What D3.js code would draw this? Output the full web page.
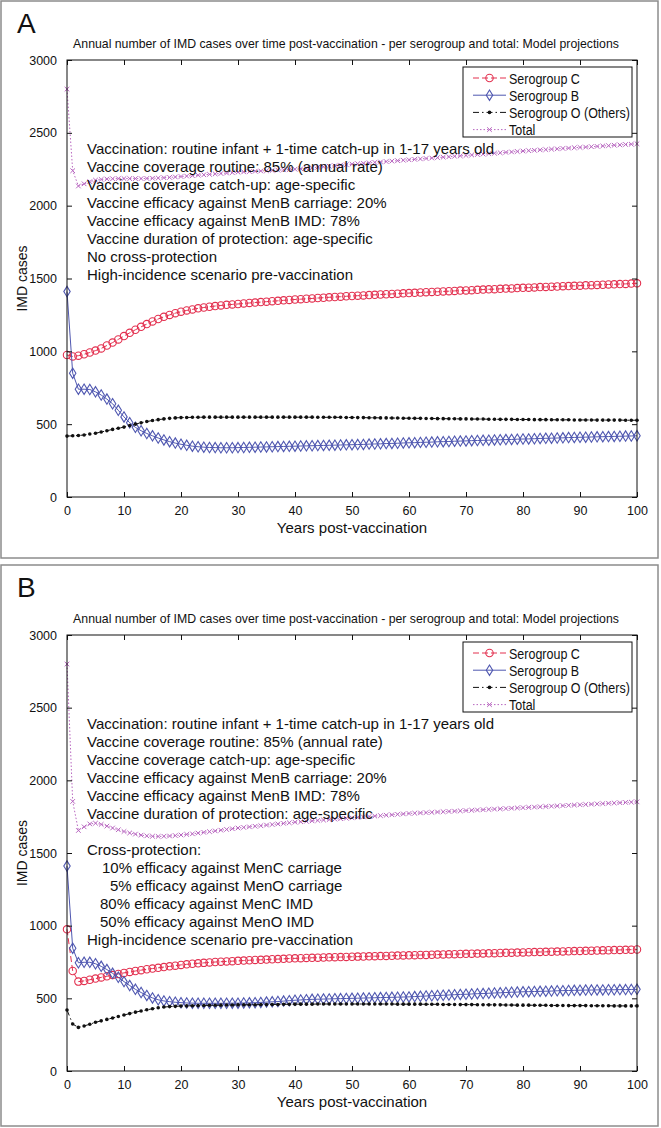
<!DOCTYPE html>
<html><head><meta charset="utf-8">
<script src="https://cdn.jsdelivr.net/npm/d3@7"></script>
<style>
body{margin:0;background:#fff}
svg{display:block}
text{font-family:"Liberation Sans",Arial,Helvetica,sans-serif;fill:#111}
</style>
</head><body>
<svg id="c" width="661" height="1128"></svg>
<script>
// ---------------- DATA ----------------
const years = d3.range(0, 101);
const xTicks = [0, 10, 20, 30, 40, 50, 60, 70, 80, 90, 100];
const yTicks = [0, 500, 1000, 1500, 2000, 2500, 3000];
const seriesNames = ["Serogroup C", "Serogroup B", "Serogroup O (Others)", "Total"];
const titleText = "Annual number of IMD cases over time post-vaccination - per serogroup and total: Model projections";
const xLabel = "Years post-vaccination";
const yLabel = "IMD cases";

// Panel A
const aC = [975,965,970,980,992,1005,1020,1040,1060,1082,1105,
 1127,1148,1168,1187,1205,1222,1237,1250,1262,1272,
 1281,1288,1295,1301,1306,1311,1315,1319,1322,1325,
 1329,1332,1335,1338,1341,1344,1347,1350,1353,1356,
 1358,1361,1363,1366,1368,1371,1373,1375,1378,1380,
 1382,1384,1386,1388,1390,1392,1394,1396,1398,1400,
 1402,1404,1406,1408,1409,1411,1413,1415,1417,1418,
 1420,1422,1424,1426,1427,1429,1431,1432,1434,1436,
 1437,1439,1441,1442,1444,1445,1447,1448,1450,1451,
 1453,1454,1456,1457,1459,1460,1462,1463,1465,1467];
const aB = [1410,850,740,740,738,722,700,672,640,595,550,
 510,478,455,436,420,405,392,380,370,362,
 355,349,345,342,340,339,338,338,338,339,
 340,341,342,343,344,345,346,347,348,349,
 350,351,352,353,354,355,356,357,358,359,
 360,361,363,364,365,367,368,369,371,372,
 373,375,376,377,379,380,381,383,384,385,
 387,388,389,390,392,393,394,395,397,398,
 399,400,402,403,404,405,406,408,409,410,
 411,412,413,414,415,416,417,418,419,420];
const aO = [418,420,422,426,432,438,446,455,464,472,480,
 490,500,510,518,525,531,536,540,543,545,
 546,547,547,548,548,548,548,548,548,548,
 548,548,548,548,548,548,548,548,548,548,
 548,548,548,547,547,547,547,547,546,546,
 545,545,544,544,543,543,542,542,541,541,
 540,540,539,539,538,538,537,537,536,536,
 535,535,535,534,534,533,533,533,532,532,
 532,531,531,531,530,530,530,530,529,529,
 529,529,528,528,528,528,528,527,527,527];
const aT = [2800,2240,2135,2150,2165,2175,2180,2183,2185,2186,2186,
 2186,2186,2186,2187,2188,2190,2192,2194,2197,2200,
 2203,2206,2209,2212,2215,2218,2221,2224,2227,2230,
 2232,2234,2236,2238,2240,2242,2244,2246,2248,2250,
 2253,2257,2260,2264,2267,2271,2274,2278,2281,2285,
 2288,2291,2294,2297,2300,2303,2306,2309,2312,2315,
 2318,2321,2324,2327,2330,2333,2336,2339,2342,2345,
 2348,2351,2354,2357,2360,2363,2366,2369,2372,2375,
 2378,2380,2383,2385,2388,2390,2393,2395,2398,2400,
 2402,2405,2407,2410,2412,2415,2417,2420,2422,2425];

// Panel B
const bC = [975,688,615,620,628,636,644,652,660,668,675,
 682,688,694,700,705,710,715,720,725,730,
 734,738,741,744,747,750,752,754,756,758,
 760,762,764,765,767,769,770,772,774,775,
 776,778,779,780,781,782,783,784,785,786,
 787,788,789,790,791,792,793,794,795,796,
 797,798,799,800,801,802,803,804,805,806,
 807,808,809,810,811,812,813,814,815,816,
 817,818,819,820,821,822,823,824,825,826,
 827,828,829,830,831,832,833,834,835,836];
const bB = [1410,845,745,748,748,738,720,698,672,645,615,
 588,562,540,520,503,490,482,477,473,470,
 468,467,466,466,466,466,466,466,467,467,
 468,469,470,472,474,476,478,481,484,487,
 489,491,493,494,495,496,497,498,499,500,
 501,502,503,504,505,506,507,508,509,510,
 512,514,516,518,520,521,523,525,527,528,
 530,532,533,535,537,538,540,542,543,545,
 546,547,548,549,550,552,553,554,555,556,
 557,557,558,558,559,559,560,560,561,562];
const bO = [420,323,300,310,322,335,345,355,365,375,385,
 395,405,413,421,428,435,440,443,445,447,
 448,449,450,451,452,452,453,454,454,455,
 455,456,456,457,457,458,458,459,459,460,
 460,460,460,461,461,461,461,461,461,461,
 461,461,461,461,461,461,461,460,460,460,
 460,460,459,459,459,458,458,458,457,457,
 457,456,456,455,455,455,454,454,453,453,
 453,452,452,452,451,451,451,450,450,450,
 450,449,449,449,449,448,448,448,448,448];
const bT = [2800,1855,1655,1680,1700,1705,1697,1685,1672,1660,1648,
 1638,1630,1623,1618,1615,1614,1615,1617,1620,1624,
 1628,1632,1637,1642,1647,1652,1657,1662,1667,1672,
 1676,1680,1684,1688,1692,1696,1700,1704,1708,1712,
 1715,1718,1721,1724,1727,1730,1733,1736,1739,1742,
 1745,1748,1751,1754,1757,1760,1763,1766,1769,1772,
 1774,1776,1778,1780,1782,1784,1786,1788,1790,1792,
 1794,1796,1798,1800,1802,1804,1806,1808,1810,1812,
 1814,1816,1818,1820,1822,1824,1826,1828,1830,1832,
 1834,1836,1838,1840,1842,1844,1846,1848,1850,1852];

const notesA = [
 "Vaccination: routine infant + 1-time catch-up in 1-17 years old",
 "Vaccine coverage routine: 85% (annual rate)",
 "Vaccine coverage catch-up: age-specific",
 "Vaccine efficacy against MenB carriage: 20%",
 "Vaccine efficacy against MenB IMD: 78%",
 "Vaccine duration of protection: age-specific",
 "No cross-protection",
 "High-incidence scenario pre-vaccination"];
const notesB = [
 "Vaccination: routine infant + 1-time catch-up in 1-17 years old",
 "Vaccine coverage routine: 85% (annual rate)",
 "Vaccine coverage catch-up: age-specific",
 "Vaccine efficacy against MenB carriage: 20%",
 "Vaccine efficacy against MenB IMD: 78%",
 "Vaccine duration of protection: age-specific",
 "",
 "Cross-protection:",
 "10% efficacy against MenC carriage",
 "5% efficacy against MenO carriage",
 "80% efficacy against MenC IMD",
 "50% efficacy against MenO IMD",
 "High-incidence scenario pre-vaccination"];
const notesBIndent = [0,0,0,0,0,0,0,0,15,23,13,13,0];

// ---------------- STYLE ----------------
const colors = ["#e3304f", "#4f57b0", "#111111", "#b866c0"];
const dashes = ["6,3", null, "6,3,1.5,3", "1.5,2"];
const svg = d3.select("#c");

function marker(sel, i, color) {
  if (i === 0) {
    sel.append("circle").attr("r", 3.7).attr("fill", "none").attr("stroke", color).attr("stroke-width", 1.1);
  } else if (i === 1) {
    sel.append("path").attr("d", "M0,-5.2L3.2,0L0,5.2L-3.2,0Z").attr("fill", "none").attr("stroke", color).attr("stroke-width", 1.1);
  } else if (i === 2) {
    sel.append("circle").attr("r", 1.8).attr("fill", color);
  } else {
    sel.append("path").attr("d", "M-2.3,-2.3L2.3,2.3M-2.3,2.3L2.3,-2.3").attr("stroke", color).attr("stroke-width", 1);
  }
}

// condensed text: drawn at `size`, squeezed horizontally to the width of the same text at `natural`
function condensed(parent, x, y, txt, size, natural, anchor, targetW) {
  const t = parent.append("text").attr("font-size", size).attr("text-anchor", anchor || "start").text(txt);
  const L = t.node().getComputedTextLength();
  const want = targetW || L * natural / size;
  const sx = want / L;
  t.attr("transform", `translate(${x},${y}) scale(${sx},1)`);
  return t;
}

function drawPanel(cfg) {
  const g = svg.append("g");
  // figure frame
  g.append("rect").attr("x", 1).attr("y", cfg.frameTop).attr("width", 657).attr("height", cfg.frameBottom - cfg.frameTop)
    .attr("fill", "none").attr("stroke", "#8c8c8c").attr("stroke-width", 1.5);
  g.append("text").attr("x", 17).attr("y", cfg.frameTop + 32).attr("font-size", 28).text(cfg.letter);

  const x = d3.scaleLinear().domain([0, 100]).range([67, 637]);
  const y = d3.scaleLinear().domain([0, 3000]).range([cfg.bottom, cfg.top]);

  // title
  condensed(g, 346, cfg.top - 12, titleText, 13.5, null, "middle", 546);

  // series
  cfg.data.forEach((vals, i) => {
    const pts = years.map((yr, k) => [yr, vals[k]]);
    const line = d3.line().x(d => x(d[0])).y(d => y(d[1]));
    g.append("path").attr("d", line(pts)).attr("fill", "none").attr("stroke", colors[i])
      .attr("stroke-width", 1).attr("stroke-dasharray", dashes[i]);
    const mg = g.append("g");
    pts.forEach(d => {
      const m = mg.append("g").attr("transform", `translate(${x(d[0])},${y(d[1])})`);
      marker(m, i, colors[i]);
    });
  });

  // axes box and inward ticks
  g.append("rect").attr("x", x(0)).attr("y", y(3000)).attr("width", x(100) - x(0)).attr("height", y(0) - y(3000))
    .attr("fill", "none").attr("stroke", "#111").attr("stroke-width", 1);
  const fmt = d3.format("d");
  const axB = g.append("g").attr("transform", `translate(0,${y(0)})`)
    .call(d3.axisBottom(x).tickValues(xTicks).tickFormat(fmt).tickSizeInner(-5).tickSizeOuter(0).tickPadding(9));
  const axT = g.append("g").attr("transform", `translate(0,${y(3000)})`)
    .call(d3.axisTop(x).tickValues(xTicks).tickSizeInner(-5).tickSizeOuter(0).tickFormat(""));
  const axL = g.append("g").attr("transform", `translate(${x(0)},0)`)
    .call(d3.axisLeft(y).tickValues(yTicks).tickFormat(fmt).tickSizeInner(-5).tickSizeOuter(0).tickPadding(10));
  const axR = g.append("g").attr("transform", `translate(${x(100)},0)`)
    .call(d3.axisRight(y).tickValues(yTicks).tickSizeInner(-5).tickSizeOuter(0).tickFormat(""));
  [axB, axT, axL, axR].forEach(a => {
    a.select(".domain").remove();
    a.selectAll("line").attr("stroke", "#111");
    a.selectAll("text").attr("font-size", 12.5).attr("fill", "#111").attr("font-family", '"Liberation Sans",Arial,sans-serif');
  });

  // axis labels
  g.append("text").attr("x", 352).attr("y", cfg.bottom + 36).attr("text-anchor", "middle").attr("font-size", 15).text(xLabel);
  g.append("text").attr("transform", `translate(27,${(cfg.top + cfg.bottom) / 2}) rotate(-90)`)
    .attr("text-anchor", "middle").attr("font-size", 14).text(yLabel);

  // annotations
  cfg.notes.forEach((s, k) => {
    if (!s) return;
    g.append("text").attr("x", 87 + (cfg.indent ? cfg.indent[k] : 0)).attr("y", cfg.top + 94 + 18 * k)
      .attr("font-size", 15).text(s);
  });

  // legend
  const lx = 463, lw = 169, lt = cfg.top + 7, lh = 70;
  const lg = g.append("g");
  lg.append("rect").attr("x", lx).attr("y", lt).attr("width", lw).attr("height", lh)
    .attr("fill", "#fff").attr("stroke", "#111").attr("stroke-width", 1);
  seriesNames.forEach((nm, i) => {
    const yy = lt + 11 + 17.2 * i;
    lg.append("line").attr("x1", 473).attr("x2", 506).attr("y1", yy).attr("y2", yy)
      .attr("stroke", colors[i]).attr("stroke-width", 1).attr("stroke-dasharray", dashes[i]);
    const m = lg.append("g").attr("transform", `translate(489.5,${yy})`);
    marker(m, i, colors[i]);
    condensed(lg, 509, yy + 5.5, nm, 15, 12.5, "start");
  });
}

drawPanel({letter: "A", frameTop: 1, frameBottom: 558, top: 60, bottom: 497,
  data: [aC, aB, aO, aT], notes: notesA});
drawPanel({letter: "B", frameTop: 565, frameBottom: 1126, top: 635, bottom: 1071,
  data: [bC, bB, bO, bT], notes: notesB, indent: notesBIndent});
</script>
</body></html>
